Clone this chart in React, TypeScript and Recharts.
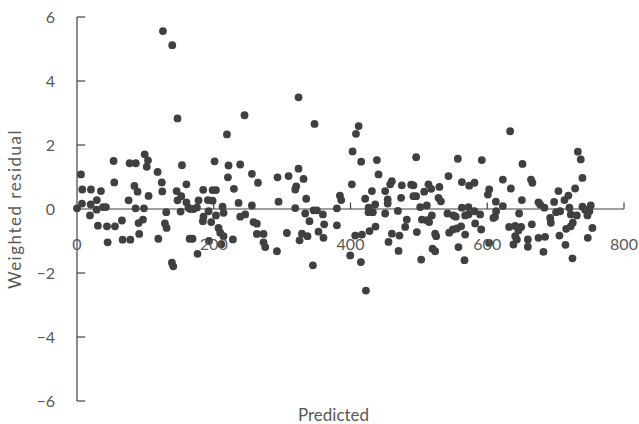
import React from 'react';
import { ScatterChart, Scatter, XAxis, YAxis, ReferenceLine } from 'recharts';

// predicted value (x) and weighted residual (y) left to right
const predicted = [
  0, 5.8, 7.3, 7.7, 19, 20, 20.4, 28.7, 29, 30.6, 35, 38, 42.3, 43.8, 44.8, 53.5, 54.5, 55.5,
  65.7, 66.7, 75.5, 77, 78, 84, 86, 85.7, 88.6, 90, 91, 96.5, 97.9, 99, 102, 103.8, 104.7,
  117.9, 118.9, 124, 124.7, 125.7, 128.6, 130.5, 131, 138.8, 139.3, 140.8, 145.7, 147, 147,
  151.5, 152.5, 153.5, 160, 160, 163, 164.7,
  165.6, 170.5, 175.4, 169, 176.3, 177.8, 184.6, 184.1, 185, 191.4, 192.4, 193, 196.3, 198.3,
  198.3, 201.2, 203.2, 203.2, 207, 209.5, 211, 212.9, 214.3, 214.3, 219.3, 220.7, 221.6, 228,
  229.5, 236.3, 238.7, 238.7, 245, 246, 255.8, 255.8, 258.2, 263.1, 263.1, 264.6, 272.8, 272.8,
  275.3, 292.4, 293.3, 294.8, 307, 309.4, 319.2, 319.2, 320.6, 324, 324, 325.5, 329, 331.3,
  333.8, 335.2, 337.1, 340, 345, 345.9, 347.4, 350.8, 353.2, 359.6, 360.5, 361.5, 380.1, 380.1,
  384.5, 386.4, 399.6, 402, 403, 406.9, 408, 411.9, 415.2, 415.6, 416.7, 421.5, 422.5, 426.4,
  427.8, 431.3, 432.7, 426.4, 436.1, 436.6, 438.6, 441, 450.7, 450.7, 454.4, 454.4, 455.6, 458,
  460.5, 460.5, 469.3, 470.2, 471.6, 474, 475, 480, 482.3, 488.7, 492, 492, 496, 496, 497,
  501.9, 503.4, 504.4, 507.8, 511.7, 511.7, 514, 515, 518, 519, 520, 523.8, 523.8, 525.3, 528.7,
  530, 532.2, 541.8, 543.3, 544.3, 549.7, 550.6, 554, 555.6, 557, 557.9, 561.8, 562.9, 562.9,
  566.7, 567.7, 567.7, 572.5, 572.5, 573.6, 581.3, 581.3, 582.3, 589.6, 591.1, 592, 600.9,
  602.8, 602.8, 609, 611.5, 612.6, 613, 622.8, 622.8, 632, 633.5, 634.5, 638.3, 640.9, 640.9,
  643.3, 645.6, 646.6, 649.6, 650.6, 651.5, 659.4, 659.4, 664, 665.2, 666,
  674.9, 677.3, 674.9, 682.2, 683.6, 684.6, 692, 693, 697.8, 700.7, 704.1, 705.6, 706.6, 712.9,
  714.4, 715.4, 718.7, 720.2, 722.2, 722.2, 724.6, 725.1, 728.5, 731, 732.5, 736.8, 739.2,
  739.2, 743.1, 746.5, 747, 749.4, 751.4, 753.8,
];

const residual = [
  0.02, 1.08, 0.17, 0.61, -0.2, 0.14, 0.61, -0.02, 0.28, -0.52, 0.56, 0.06, 0.06, -0.54, -1.04, 1.5, 0.83, -0.54,
  -0.36, -0.96, 0.27, 1.43, -0.96, 0.72, 1.43, 0.02, 0.54, -0.44, -0.78, -0.33, 0.02, 1.71, 1.32, 1.52, 0.41,
  1.16, -0.93, 0.83, 0.55, 5.56, -0.45, -0.1, -0.59, -1.68, 5.12, -1.79, 0.56, 0.27, 2.83,
  -0.08, 0.4, 1.37, 0.77, 0.21, 0.04, -0.93,
  0.0, 0.0, 0.05, -0.93, -1.4, 0.27, 0.6, -0.38, -0.24, 0.28, -0.07, -1.0, -0.41, 0.59,
  0.26, 1.49, 0.59, -0.2, -0.59, -0.74, -1.1, 0.07, -0.12, -0.85, 2.33, 0.99, 1.36, -0.95,
  0.63, 0.19, 1.39, -0.24, 2.93, -0.17, 1.1, 0.11, -0.41, -0.46, -0.78, 0.82, -0.78, -1.04,
  -1.19, -1.32, 0.99, 0.23, -0.75, 1.03, 0.61, 0.03, 0.71, 1.26, 3.49, -0.98, -0.77, 0.94,
  -0.14, 0.32, -0.85, -0.38, -1.76, -0.04, 2.66, -0.04, -0.71, -0.17, -0.9, -0.48, 0.02, -0.51,
  0.42, 0.28, -1.45, 0.77, 1.8, -0.83, 2.35, 2.59, -1.66, 1.48, -0.8, 0.32, -2.55, 0.04,
  -0.69, 0.56, -0.1, -0.1, 0.14, -0.55, 1.53, 1.08, 0.56, -0.14, 0.3, 0.17, -1.03, 0.77,
  0.87, -0.77, -0.06, -1.31, -0.83, 0.35, 0.74, -0.56, -0.33, 0.76, 0.4, 0.74, 0.4, 1.62, -0.72,
  0.06, -1.58, -0.33, 0.54, 0.11, -0.35, 0.77, -0.41, 0.63, -0.2, -1.24, -0.77, -1.32, -0.85, 0.35,
  0.69, 0.24, -0.14, 1.03, -0.74, -0.64, -0.2, -0.24, -0.61, 1.57, -1.19, -0.54, 0.84, 0.04,
  -1.6, -0.2, -0.8, 0.06, -0.17, 0.73, 0.82, -0.07, -0.45, -0.17, -0.64, 1.53, 0.45,
  0.61, -1.06, -0.28, -0.24, 0.23, -0.07, 0.92, 0.09, -0.56, 2.43, 0.64, -1.11, -0.53, -0.85,
  -0.95, -0.67, -0.14, -0.56, 0.28, 1.41, -0.95, -1.18, 0.92, -0.48, 0.82,
  0.21, 0.14, -0.9, -1.34, 0.04, -0.87, -0.28, -0.43, 0.22, -0.1, 0.56, -0.83, -0.07, 0.28,
  -1.12, -0.62, 0.42, 0.04, -0.17, -0.54, -1.54, -0.43, 0.64, -0.2, 1.79, 1.55, 0.97,
  0.07, -0.02, -0.2, -0.9, -0.07, 0.11, -0.59,
];

const xTicks = [0, 200, 400, 600, 800];
const yTicks = [-6, -4, -2, 0, 2, 4, 6];

const points = predicted.map((p, i) => ({ predicted: p, residual: residual[i] }));

const W = 639;
const H = 424;
const X_AXIS_H = 23;
const margin = { top: 17, right: 15, bottom: 0, left: 0 };
const PLOT_H = H - margin.top - margin.bottom - X_AXIS_H;

const FONT = "Lato, 'Open Sans', sans-serif";
const INK = '#404040';
const TEXT = '#595959';

const fmt = (v: number) => (v < 0 ? `\u2212${-v}` : `${v}`);

// x labels hang under the zero line, not under the plot
const XTick = (props: any) => {
  const { x, y, payload } = props;
  const zeroY = y - PLOT_H / 2;
  return (
    <text
      x={x}
      y={zeroY + 34}
      textAnchor="middle"
      dominantBaseline="central"
      fill={TEXT}
      fontSize={16}
      fontFamily={FONT}
    >
      {payload.value}
    </text>
  );
};

const Dot = (props: any) => <circle cx={props.cx} cy={props.cy} r={3.9} fill={INK} />;

export default function App() {
  return (
    <div style={{ position: 'absolute', left: 0, top: 0, background: '#fff' }}>
      <ScatterChart width={W} height={H} margin={margin}>
        <XAxis
          type="number"
          dataKey="predicted"
          domain={[0, 800]}
          ticks={xTicks}
          height={X_AXIS_H}
          axisLine={false}
          tickLine={false}
          tickSize={0}
          tickMargin={0}
          tick={<XTick />}
          label={{
            value: 'Predicted',
            position: 'insideBottom',
            offset: 3,
            dx: -17,
            style: { fill: TEXT, fontSize: 17, fontFamily: FONT },
          }}
        />
        <YAxis
          type="number"
          dataKey="residual"
          domain={[-6, 6]}
          ticks={yTicks}
          width={77}
          axisLine={{ stroke: INK, strokeWidth: 1.2 }}
          tickLine={false}
          tickSize={0}
          tickMargin={22}
          tickFormatter={fmt}
          tick={{ fill: TEXT, fontSize: 16, fontFamily: FONT }}
          label={{
            value: 'Weighted residual',
            angle: -90,
            position: 'insideLeft',
            offset: 15,
            style: { textAnchor: 'middle', fill: TEXT, fontSize: 17, fontFamily: FONT, letterSpacing: 1.5 },
          }}
        />
        <ReferenceLine y={0} stroke={INK} strokeWidth={1.2} />
        {yTicks
          .filter((t) => t !== 0)
          .map((t) => (
            <ReferenceLine key={`yt${t}`} segment={[{ x: 0, y: t }, { x: 12, y: t }]} stroke={INK} strokeWidth={1.2} />
          ))}
        {xTicks
          .filter((t) => t !== 0)
          .map((t) => (
            <ReferenceLine key={`xt${t}`} segment={[{ x: t, y: 0 }, { x: t, y: 0.2 }]} stroke={INK} strokeWidth={1.2} />
          ))}
        <Scatter data={points} shape={<Dot />} isAnimationActive={false} />
      </ScatterChart>
    </div>
  );
}
